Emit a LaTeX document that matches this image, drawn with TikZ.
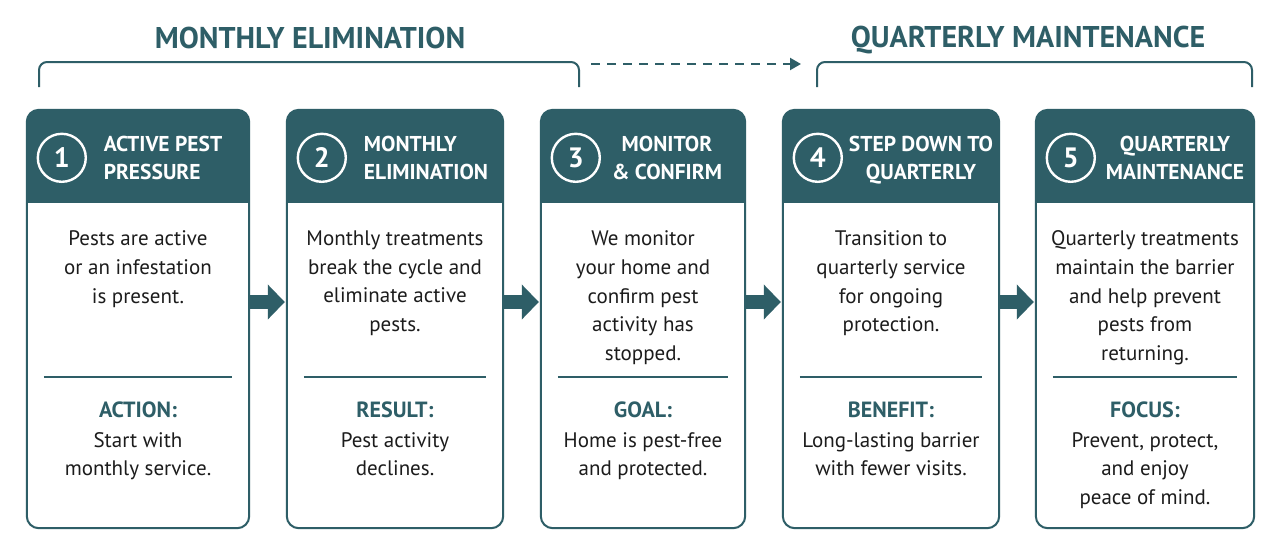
\documentclass[tikz,border=0pt]{standalone}
\usepackage{fontspec}
\setmainfont{PT Sans}
\newfontfamily\hfont{PT Sans}
\usetikzlibrary{arrows.meta}
\definecolor{tl}{HTML}{2E5E67}
\definecolor{ink}{HTML}{1C1C1C}
\tikzset{
  card/.style={inner sep=0pt, minimum height=418pt},
  cardborder/.style={draw=tl, line width=2pt, rounded corners=12pt},
  numc/.style={circle, draw=white, line width=2.4pt, minimum size=48pt, inner sep=0pt,
    text=white, font=\hfont\bfseries\fontsize{28}{28}\selectfont},
  hdrtext/.style={text=white, inner sep=0pt, font=\hfont\bfseries\fontsize{21.5}{28}\selectfont},
  body/.style={text=ink, inner sep=0pt, anchor=north, align=center, font=\fontsize{21}{28.6}\selectfont},
  seprule/.style={draw=tl, line width=2pt},
  title/.style={text=tl, inner sep=0pt, font=\hfont\bfseries\fontsize{30}{30}\selectfont},
  bracket/.style={draw=tl, line width=2pt, rounded corners=8pt},
  flow/.style={draw=tl, line width=14pt, -{Triangle[width=34pt,length=17pt]}},
  jump/.style={draw=tl, line width=2.2pt, dash pattern=on 9pt off 7pt, -{Triangle[width=12pt,length=11pt]}}
}
\newcommand\lbl{\hfont\bfseries\fontsize{22}{22}\selectfont\color{tl}}
% #1 name, #2 x0, #3 x1, #4 number, #5 body, #6 label, #7 label text
\newcommand\stepcard[7]{%
  \node[card, minimum width={(#3)-(#2)}] (#1) at ({((#2)+(#3))/2},319) {};
  \begin{scope}
    \clip[rounded corners=12pt] (#1.north west) rectangle (#1.south east);
    \fill[tl] (#1.north west) rectangle ([yshift=-93pt]#1.north east);
  \end{scope}
  \draw[cardborder] (#1.north west) rectangle (#1.south east);
  \node[numc] (#1n) at ([xshift=35pt,yshift=-48pt]#1.north west) {#4};
  \node[body] (#1b) at ([yshift=-121pt]#1.north) {#5};
  \draw[seprule] ([xshift=17pt,yshift=-267pt]#1.north west) coordinate (#1s1) -- ([xshift=-17pt,yshift=-267pt]#1.north east) coordinate (#1s2);
  \node[body] (#1l) at ([yshift=-292pt]#1.north) {{\lbl #6}\\[1pt]#7};
}
\begin{document}
\begin{tikzpicture}[x=1pt,y=-1pt]
\useasboundingbox (0,0) rectangle (1280,558);
\fill[white] (0,0) rectangle (1280,558);

% titles and brackets
\node[title] (t1) at (310,38) {MONTHLY ELIMINATION};
\node[title] (t2) at (1028,40.5) {QUARTERLY MAINTENANCE};
\coordinate (bl1) at (39,87);
\coordinate (bl2) at (579,87);
\coordinate (br1) at (817,87);
\coordinate (br2) at (1252,87);
\draw[bracket] (bl1) -- (39,62) -- (579,62) -- (bl2);
\draw[bracket] (br1) -- (817,62) -- (1252,62) -- (br2);
\coordinate (j1) at (591,64);
\coordinate (j2) at (801,64);
\draw[jump] (j1) -- (j2);

\stepcard{c1}{27}{249}{1}{Pests are active\\or an infestation\\is present.}{ACTION:}{Start with\\monthly service.}
\stepcard{c2}{287}{503}{2}{Monthly treatments\\break the cycle and\\eliminate active\\pests.}{RESULT:}{Pest activity\\declines.}
\stepcard{c3}{541}{745}{3}{We monitor\\your home and\\confirm pest\\activity has\\stopped.}{GOAL:}{Home is pest-free\\and protected.}
\stepcard{c4}{783}{999}{4}{Transition to\\quarterly service\\for ongoing\\protection.}{BENEFIT:}{Long-lasting barrier\\with fewer visits.}
\stepcard{c5}{1036}{1254}{5}{Quarterly treatments\\maintain the barrier\\and help prevent\\pests from\\returning.}{FOCUS:}{Prevent, protect,\\and enjoy\\peace of mind.}

% header texts
\node[hdrtext, align=left] (h1) at (163,158) {ACTIVE PEST\\PRESSURE};
\node[hdrtext, align=left] (h2) at (426,158) {MONTHLY\\ELIMINATION};
\node[hdrtext, align=center] (h3) at (667,158) {MONITOR\\\& CONFIRM};
\node[hdrtext, align=center] (h4) at (921,160.5) {STEP DOWN TO\\QUARTERLY};
\node[hdrtext, align=center] (h5) at (1175,158) {QUARTERLY\\MAINTENANCE};

% flow arrows
\draw[flow] ([yshift=17pt]c1.east) -- ([yshift=17pt,xshift=-2pt]c2.west);
\draw[flow] ([yshift=17pt]c2.east) -- ([yshift=17pt,xshift=-2pt]c3.west);
\draw[flow] ([yshift=17pt]c3.east) -- ([yshift=17pt,xshift=-2pt]c4.west);
\draw[flow] ([yshift=17pt]c4.east) -- ([yshift=17pt,xshift=-2pt]c5.west);
\end{tikzpicture}
\end{document}
